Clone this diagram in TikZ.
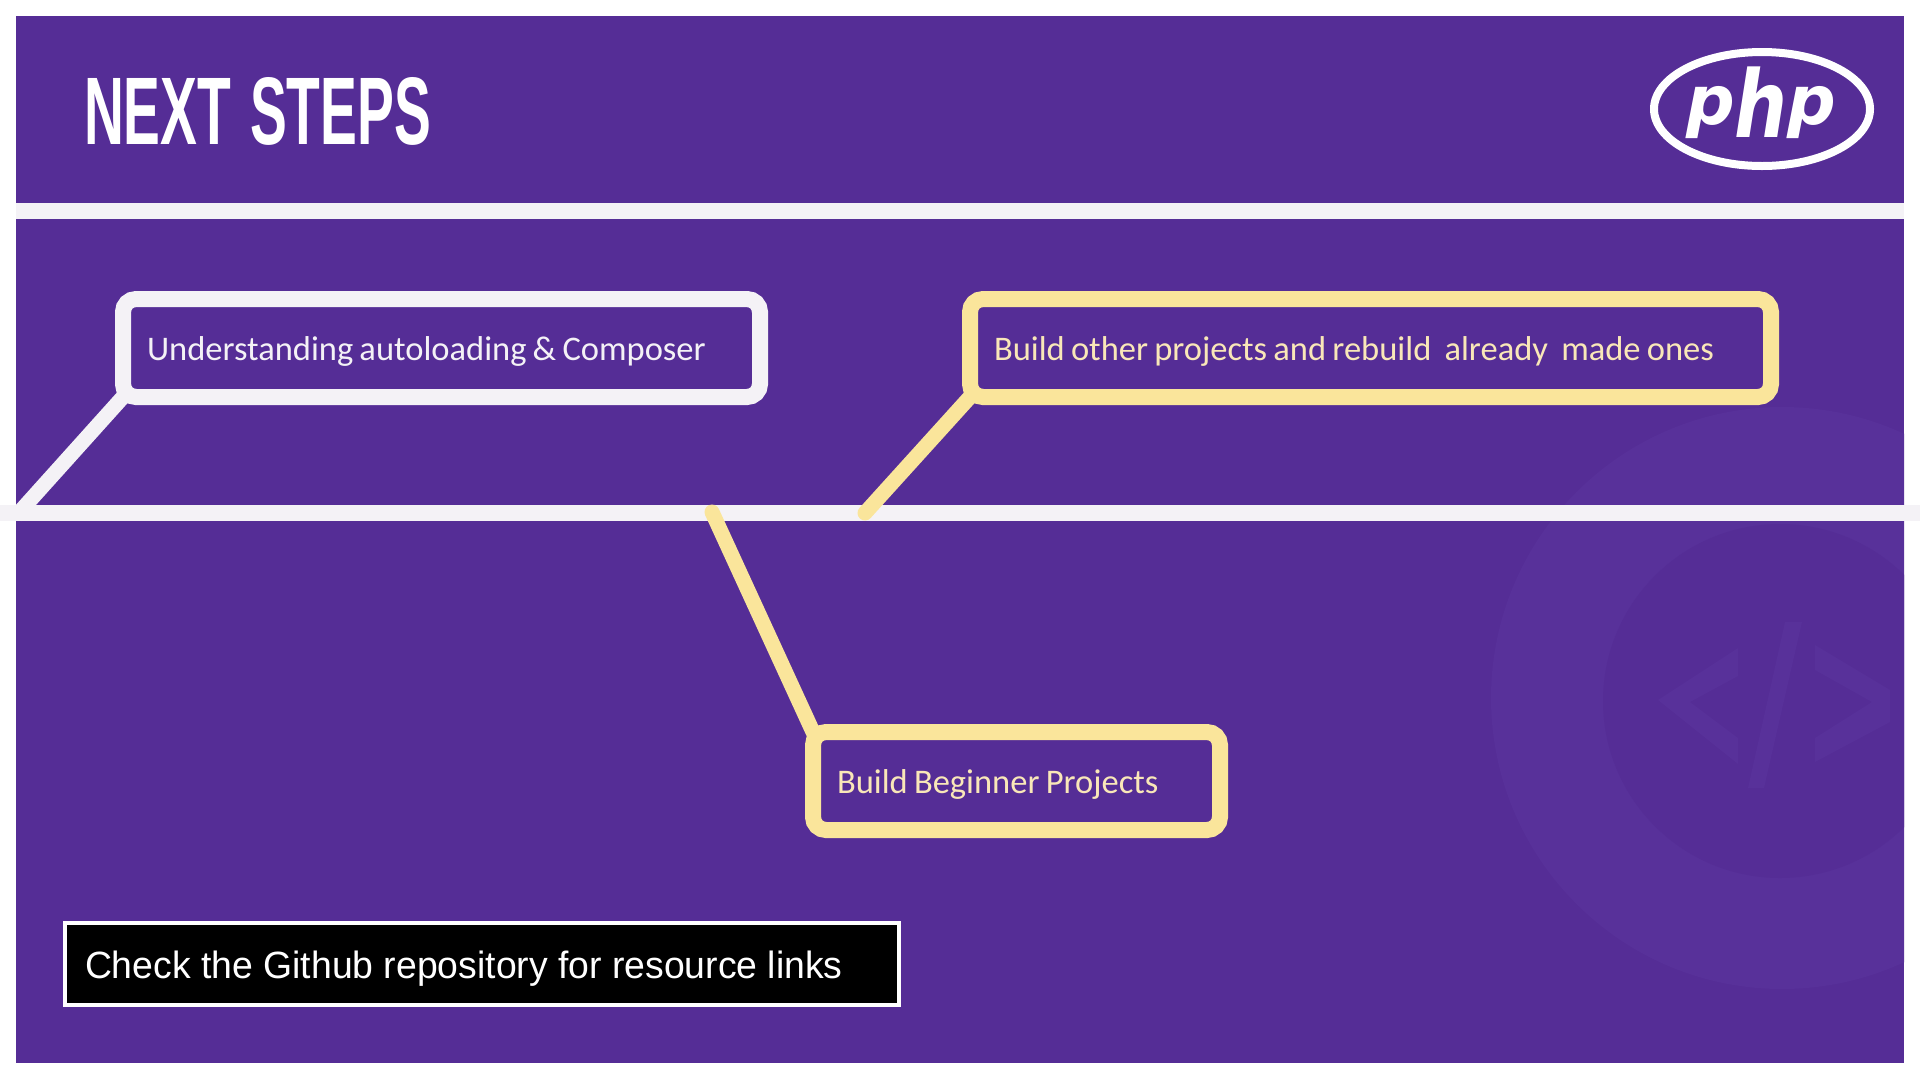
\documentclass[tikz,border=0pt]{standalone}
\usepackage{fontspec}
\usetikzlibrary{shapes.geometric}
\setmainfont[WordSpace=0.8]{Carlito}
\newfontfamily\arialfont[FakeStretch=0.983]{Liberation Sans}
\newfontfamily\titlefont{Liberation Sans}
\newfontfamily\logofont{DejaVu Sans}[BoldItalicFont={DejaVu Sans Bold Oblique}]
\definecolor{basepurple}{HTML}{552D96}
\definecolor{ghostpurple}{HTML}{58319A}
\definecolor{paleband}{HTML}{F4F2F6}
\definecolor{creamline}{HTML}{FAE59B}
\definecolor{creamtext}{HTML}{F9E7B8}
\tikzset{
  callout/.style={draw,line width=16pt,fill=basepurple,rounded corners=13pt,anchor=north west,
    minimum height=98pt,inner xsep=24pt,inner ysep=0pt,outer sep=0pt,align=left,
    text height=30pt,text depth=6pt,font=\fontsize{34.5}{40}\selectfont},
  whitecallout/.style={callout,draw=paleband,text=paleband},
  creamcallout/.style={callout,draw=creamline,text=creamtext},
  leader/.style={line width=15pt,line cap=round},
  band/.style={fill=paleband,draw=none},
}
\begin{document}
\begin{tikzpicture}[x=1pt,y=-1pt]
\useasboundingbox (0,0) rectangle (1920,1080);
\fill[white] (0,0) rectangle (1920,1080);
\fill[basepurple] (16,16) rectangle (1904,1063);
% faint background emblem
\begin{scope}
\clip (16,16) rectangle (1904,1063);
\fill[ghostpurple] (1782,698) circle[radius=291];
\fill[basepurple] (1780,701) circle[radius=177];
\fill[ghostpurple] (1658,700) -- (1738,648) -- (1738,676) -- (1690,702) -- (1738,738) -- (1738,764) -- cycle;
\fill[ghostpurple] (1785,622) -- (1802,622) -- (1764,788) -- (1748,788) -- cycle;
\fill[ghostpurple] (1815,645) -- (1890,690) -- (1890,722) -- (1815,762) -- (1815,738) -- (1872,702) -- (1815,670) -- cycle;
\end{scope}
% bands
\fill[band] (16,203) rectangle (1904,219);
\fill[band] (0,505) rectangle (1920,521);
% title
\node[anchor=base west,text=white,inner sep=0pt,xscale=0.575,transform shape] (title) at (84,144)
  {\titlefont\bfseries\fontsize{96}{96}\selectfont NEXT\hspace{6pt} STEPS};
% logo
\node[draw=white,line width=8pt,ellipse,minimum width=216pt,minimum height=114pt,inner sep=0pt] (logoring) at (1762,109) {};
\node[anchor=base west,text=white,inner sep=0pt] (logotext) at (1686,124)
  {\logofont\bfseries\itshape\fontsize{68}{68}\selectfont p\raisebox{-13pt}{\fontsize{93}{93}\selectfont\scalebox{0.8}[1]{h}}p};
% callouts
\node[whitecallout,minimum width=637pt,text width=589pt] (autoload) at (123,299) {\spaceskip=0pt\relax\mbox{Understanding autoloading \& Composer}};
\node[creamcallout,minimum width=801pt,text width=753pt] (rebuild) at (970,299) {\spaceskip=0pt\relax\mbox{Build other projects and rebuild \hspace{7pt}already \hspace{7pt}made ones}};
\node[creamcallout,minimum width=407pt,text width=359pt] (beginner) at (813,732) {\spaceskip=0pt\relax\mbox{Build Beginner Projects}};
% leaders
\coordinate (axisA) at (16,516);
\coordinate (axisB) at (865,513);
\coordinate (axisC) at (712,512);
\draw[leader,draw=paleband,line cap=butt] (axisA) -- (autoload.south west);
\draw[leader,draw=creamline] (axisB) -- (rebuild.south west);
\draw[leader,draw=creamline] (axisC) -- (beginner.north west);
% note
\node[draw=white,line width=4pt,fill=black,text=white,anchor=north west,minimum width=834pt,minimum height=82pt,
  text width=794pt,inner xsep=20pt,inner ysep=0pt,outer sep=0pt,align=left,text height=34pt,text depth=6pt,font=\arialfont\fontsize{38}{44}\selectfont] (note) at (65,923)
  {\spaceskip=0pt\relax\mbox{Check the Github repository for resource links}};
\end{tikzpicture}
\end{document}
